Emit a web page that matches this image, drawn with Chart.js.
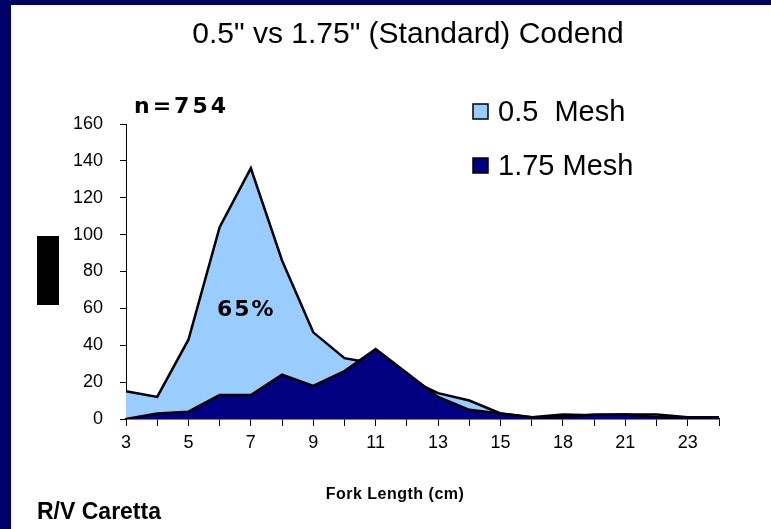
<!DOCTYPE html>
<html>
<head>
<meta charset="utf-8">
<script src="https://cdn.jsdelivr.net/npm/chart.js@4.4.1/dist/chart.umd.min.js"></script>
<style>
    html, body { margin: 0; padding: 0; background: #fff; }
    #frame {
        position: absolute; left: 0; top: 0;
        width: 760px; height: 524px;
        border-top: 5px solid #000066;
        border-left: 11px solid #000066;
        background: #fff;
    }
    canvas { display: block; }
</style>
</head>
<body>
<div id="frame"><canvas id="chart" width="760" height="524"></canvas></div>
<script>
// Fork length categories (cm) and catch counts per codend
const lengths = ['3', '4', '5', '6', '7', '8', '9', '10', '11', '12', '13', '14', '15', '17', '18', '20', '21', '22', '23', '24'];
const mesh05 = [15, 12, 43, 104, 136, 86, 47, 33, 30, 22, 14, 10, 3, 1, 2.5, 2, 2.5, 2.5, 1, 1];
const mesh175 = [0, 3, 4, 13, 13, 24, 18, 26, 38, 25, 12, 5, 3, 1, 1, 2.5, 2.5, 1, 1, 1];
const yTicks = [0, 20, 40, 60, 80, 100, 120, 140, 160];

const seriesNames = ['0.5  Mesh', '1.75 Mesh'];
const seriesColors = ['#99ccff', '#000080'];

// extra texts and the custom legend
const annotations = {
    id: 'annotations',
    afterDraw(chart) {
        const ctx = chart.ctx;
        ctx.save();
        ctx.fillStyle = '#000';

        // title
        ctx.font = '30px "Liberation Sans", Arial, sans-serif';
        ctx.textAlign = 'center';
        ctx.textBaseline = 'middle';
        ctx.fillText('0.5" vs 1.75" (Standard) Codend', 397, 30);

        // n and percentage
        ctx.textAlign = 'left';
        ctx.font = 'bold 22px "DejaVu Sans", Verdana, sans-serif';
        ctx.letterSpacing = '3px';
        ctx.fillText('n=754', 123, 102);
        ctx.font = 'bold 22px "DejaVu Sans", Verdana, sans-serif';
        ctx.letterSpacing = '2px';
        ctx.fillText('65%', 206, 305);

        // axis title
        ctx.textAlign = 'center';
        ctx.font = 'bold 16px "Liberation Sans", Arial, sans-serif';
        ctx.letterSpacing = '0.5px';
        ctx.fillText('Fork Length (cm)', 384, 490);

        ctx.textAlign = 'left';
        ctx.font = 'bold 23px "Liberation Sans", Arial, sans-serif';
        ctx.letterSpacing = '0px';
        ctx.fillText('R/V Caretta', 26, 508);

        // y-axis title block
        ctx.fillRect(26, 231, 22, 69);

        // legend
        ctx.font = '29px "Liberation Sans", Arial, sans-serif';
        ctx.textBaseline = 'alphabetic';
        chart.data.datasets.forEach((ds, i) => {
            const y = 99 + i * 54;
            ctx.fillStyle = ds.backgroundColor;
            ctx.fillRect(462, y, 15, 15);
            ctx.lineWidth = 1.5;
            ctx.strokeStyle = '#000';
            ctx.strokeRect(462, y, 15, 15);
            ctx.fillStyle = '#000';
            ctx.fillText(ds.label, 487, y + 17);
        });
        ctx.restore();
    }
};

new Chart(document.getElementById('chart'), {
    type: 'line',
    data: {
        labels: lengths,
        datasets: [{
            label: seriesNames[0],
            data: mesh05,
            backgroundColor: seriesColors[0],
            borderColor: '#000',
            borderWidth: 2.5,
            fill: 'origin',
            pointRadius: 0,
            tension: 0,
            order: 1
        }, {
            label: seriesNames[1],
            data: mesh175,
            backgroundColor: seriesColors[1],
            borderColor: '#000',
            borderWidth: 2.5,
            fill: 'origin',
            pointRadius: 0,
            tension: 0,
            order: 0
        }]
    },
    options: {
        responsive: false,
        animation: false,
        layout: { padding: { left: 0, right: 52, top: 119, bottom: 0 } },
        plugins: {
            legend: { display: false },
            tooltip: { enabled: false }
        },
        scales: {
            x: {
                type: 'category',
                offset: false,
                afterFit: function(scale) { scale.height = 110; },
                border: { color: '#000', width: 1.5 },
                grid: { drawOnChartArea: false, tickLength: 7, color: '#000', lineWidth: 1 },
                ticks: {
                    autoSkip: false,
                    maxRotation: 0,
                    padding: 6,
                    color: '#000',
                    font: { family: '"Liberation Sans", Arial, sans-serif', size: 18 },
                    callback: function(value, index) {
                        return index % 2 === 0 ? lengths[index] : '';
                    }
                }
            },
            y: {
                min: yTicks[0],
                max: yTicks[yTicks.length - 1],
                afterFit: function(scale) { scale.width = 115; },
                afterBuildTicks: function(scale) {
                    scale.ticks = yTicks.map(v => ({ value: v }));
                },
                border: { color: '#000', width: 1 },
                grid: { drawOnChartArea: false, tickLength: 6, color: '#000', lineWidth: 1 },
                ticks: {
                    padding: 17,
                    color: '#000',
                    font: { family: '"Liberation Sans", Arial, sans-serif', size: 18 }
                }
            }
        }
    },
    plugins: [annotations]
});
</script>
</body>
</html>
